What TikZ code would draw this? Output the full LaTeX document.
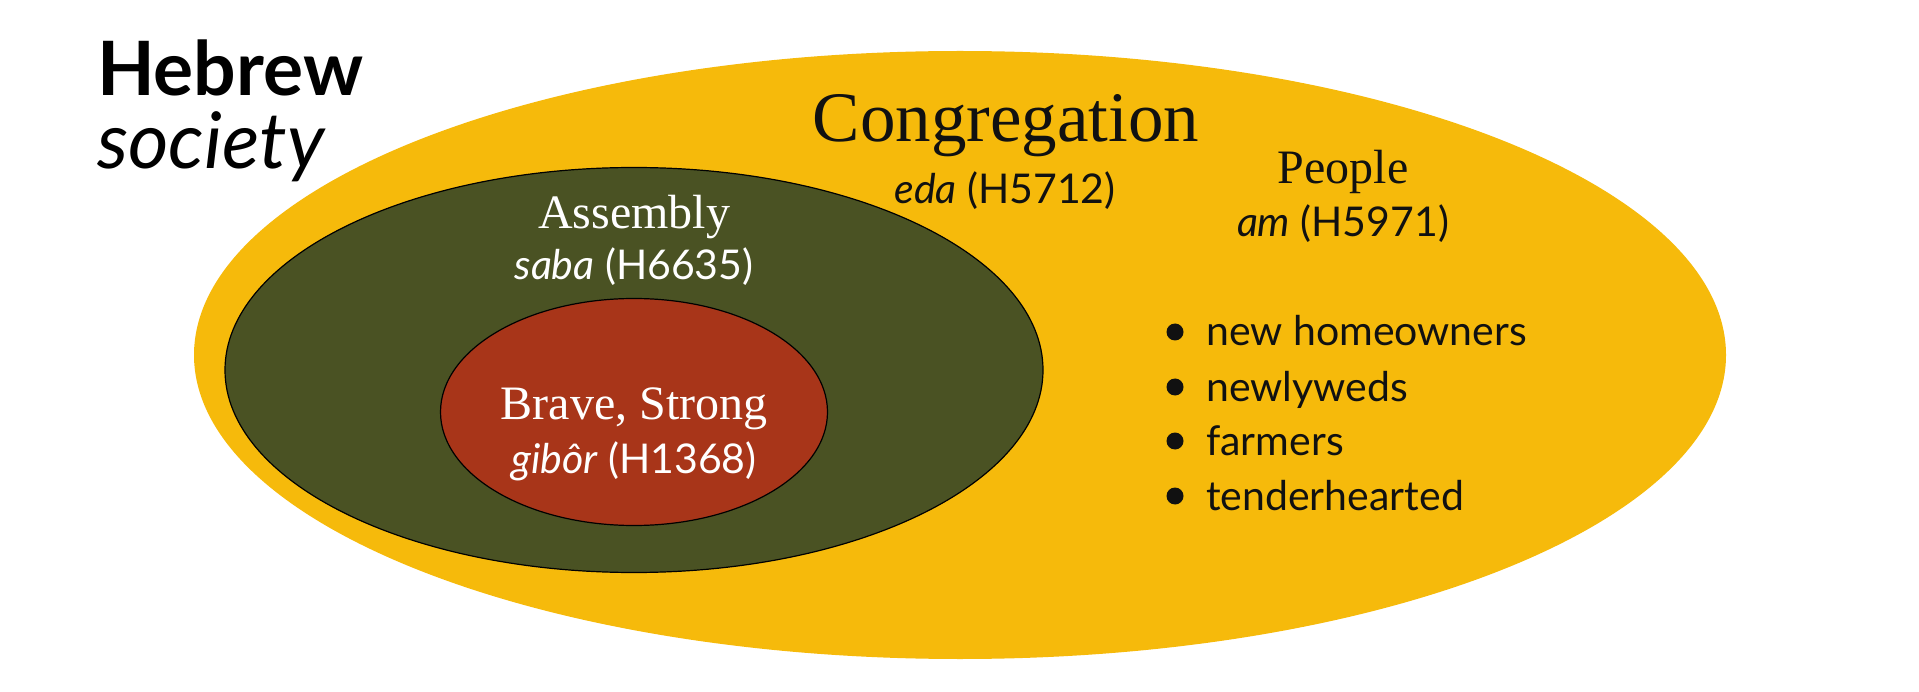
\documentclass[tikz,border=0pt]{standalone}
\usepackage{fontspec}
\setmainfont{Liberation Serif}
\newfontfamily\lato{Lato}
\usetikzlibrary{shapes.geometric}
\definecolor{gold}{HTML}{F6BA0B}
\definecolor{olive}{HTML}{4A5223}
\definecolor{brick}{HTML}{A83519}
\definecolor{ink}{HTML}{111111}
\tikzset{
  region/.style={ellipse, inner sep=0pt},
  serifbig/.style={anchor=base, inner sep=0pt, font=\fontsize{71}{80}\selectfont},
  serifmid/.style={anchor=base, inner sep=0pt, font=\fontsize{48}{56}\selectfont},
  sanslab/.style={anchor=base, inner sep=0pt, font=\lato\fontsize{41}{48}\selectfont},
  listitem/.style={anchor=base west, inner sep=0pt, font=\lato\fontsize{41}{48}\selectfont, text=ink},
  titlefont/.style={anchor=north west, inner sep=0pt, align=left, text=black, font=\lato\fontsize{75}{73}\selectfont},
}
\begin{document}
\begin{tikzpicture}[x=1pt,y=-1pt]
\useasboundingbox (0,0) rectangle (1919,692);
% regions
\node[region, fill=gold, minimum width=1532pt, minimum height=608pt] (cong) at (960,355) {};
\node[region, fill=olive, draw=black, line width=1.2pt, minimum width=818pt, minimum height=405pt] (assem) at (634,370) {};
\node[region, fill=brick, draw=black, line width=1.2pt, minimum width=387pt, minimum height=227pt] (brave) at (634,412) {};
% title
\node[titlefont] (title) at (97,40) {{\bfseries Hebrew}\\{\fontsize{78}{73}\selectfont\itshape society}};
% congregation
\node[serifbig, text=ink] (cg) at (1006,142) {Congregation};
\node[sanslab, text=ink] (cgs) at (1005,204) {\itshape eda\upshape{} (H5712)};
% people
\node[serifmid, text=ink] (pp) at (1343,184) {People};
\node[sanslab, text=ink] (pps) at (1343,237) {\itshape am\upshape{} (H5971)};
% assembly
\node[serifmid, text=white] (as) at (634,229) {Assembly};
\node[sanslab, text=white] (ass) at (634,280) {\itshape saba\upshape{} (H6635)};
% brave
\node[anchor=base, inner sep=0pt, font=\fontsize{48}{56}\selectfont, text=white] (br) at (634,419) {Brave, Strong};
\node[sanslab, text=white] (brs) at (634,473) {\itshape gibôr\upshape{} (H1368)};
% list
\node[listitem] (l1) at (1206,346) {new homeowners};
\node[listitem] (l2) at (1206,401) {newlyweds};
\node[listitem] (l3) at (1206,455) {farmers};
\node[listitem] (l4) at (1206,510) {tenderhearted};
\foreach \n in {l1,l2,l3,l4}{
  \fill[ink] ([xshift=-31pt,yshift=14pt]\n.base west) circle (8.5pt);
}
\end{tikzpicture}
\end{document}
